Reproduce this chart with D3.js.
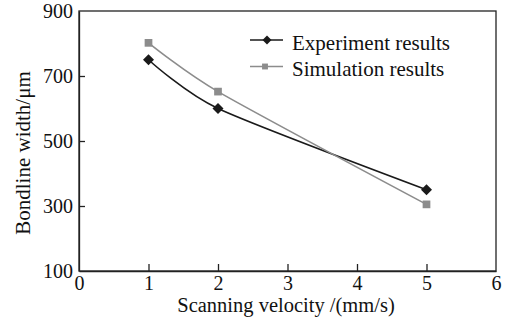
<!DOCTYPE html>
<html><head><meta charset="utf-8">
<script src="https://cdn.jsdelivr.net/npm/d3@7"></script>
<style>body{margin:0;background:#fff}svg{display:block}text{font-family:"Liberation Serif","Times New Roman",serif}</style>
</head><body><svg id="c" width="511" height="322"></svg>
<script>
const velocity = [1, 2, 5];
const experiment = [750, 600, 350];
const simulation = [802, 652, 305];
const xTicks = [0, 1, 2, 3, 4, 5, 6];
const yTicks = [100, 300, 500, 700, 900];
const seriesNames = ["Experiment results", "Simulation results"];

const svg = d3.select("#c");
const L = 79, R = 496, T = 11, B = 271;
const x = d3.scaleLinear().domain([0, 6]).range([L, R]);
const y = d3.scaleLinear().domain([100, 900]).range([B, T]);
const FONT = '"Liberation Serif","Times New Roman",serif';

svg.append("rect").attr("x", L).attr("y", T).attr("width", R - L).attr("height", B - T)
  .attr("fill", "none").attr("stroke", "#222").attr("stroke-width", 1.3);

const xAxis = svg.append("g").attr("transform", `translate(0,${B})`)
  .call(d3.axisBottom(x).tickValues(xTicks).tickFormat(d3.format("d")).tickSizeInner(-7).tickSizeOuter(0).tickPadding(5));
const yAxis = svg.append("g").attr("transform", `translate(${L},0)`)
  .call(d3.axisLeft(y).tickValues(yTicks).tickFormat(d3.format("d")).tickSizeInner(-6).tickSizeOuter(0).tickPadding(6));
[xAxis, yAxis].forEach(a => {
  a.select(".domain").attr("stroke", "#222").attr("stroke-width", 1.3);
  a.selectAll(".tick line").attr("stroke", "#222").attr("stroke-width", 1.3);
  a.selectAll(".tick text").attr("font-size", 20).attr("fill", "#111").style("font-family", FONT);
});
xAxis.selectAll(".tick").filter(d => d === 6 || d === 0).select("line").remove();
yAxis.selectAll(".tick").filter(d => d === 100 || d === 900).select("line").remove();

svg.append("text").attr("x", 286).attr("y", 312).attr("text-anchor", "middle")
  .attr("font-size", 20.5).attr("fill", "#111").text("Scanning velocity /(mm/s)");
svg.append("text").attr("transform", "translate(30,153) rotate(-90)").attr("text-anchor", "middle")
  .attr("font-size", 21).attr("fill", "#111").text("Bondline width/μm");

const line = d3.line().curve(d3.curveCardinal.tension(0.3)).x(d => x(d[0])).y(d => y(d[1]));
const series = [
  {vals: experiment, color: "#1a1a1a", shape: "diamond"},
  {vals: simulation, color: "#8c8c8c", shape: "square"}
];
function marker(g, shape, color, cx, cy, s) {
  if (shape === "diamond") {
    g.append("path").attr("d", `M${cx},${cy-s}L${cx+s},${cy}L${cx},${cy+s}L${cx-s},${cy}Z`).attr("fill", color);
  } else {
    g.append("rect").attr("x", cx - s * 0.7).attr("y", cy - s * 0.7).attr("width", s * 1.4).attr("height", s * 1.4).attr("fill", color);
  }
}
series.forEach(s => {
  const pts = velocity.map((v, i) => [v, s.vals[i]]);
  svg.append("path").attr("d", line(pts)).attr("fill", "none").attr("stroke", s.color).attr("stroke-width", 1.6);
  const g = svg.append("g");
  pts.forEach(p => marker(g, s.shape, s.color, x(p[0]), y(p[1]), 5.5));
});

series.forEach((s, i) => {
  const ly = 40 + i * 26.5;
  svg.append("line").attr("x1", 250).attr("x2", 283).attr("y1", ly).attr("y2", ly)
    .attr("stroke", s.color).attr("stroke-width", 1.6);
  marker(svg.append("g"), s.shape, s.color, s.shape === "diamond" ? 267 : 265, ly, s.shape === "diamond" ? 4.5 : 4.2);
  svg.append("text").attr("x", 292).attr("y", ly + 9.5).attr("font-size", 21).attr("fill", "#111").text(seriesNames[i]);
});
</script></body></html>
